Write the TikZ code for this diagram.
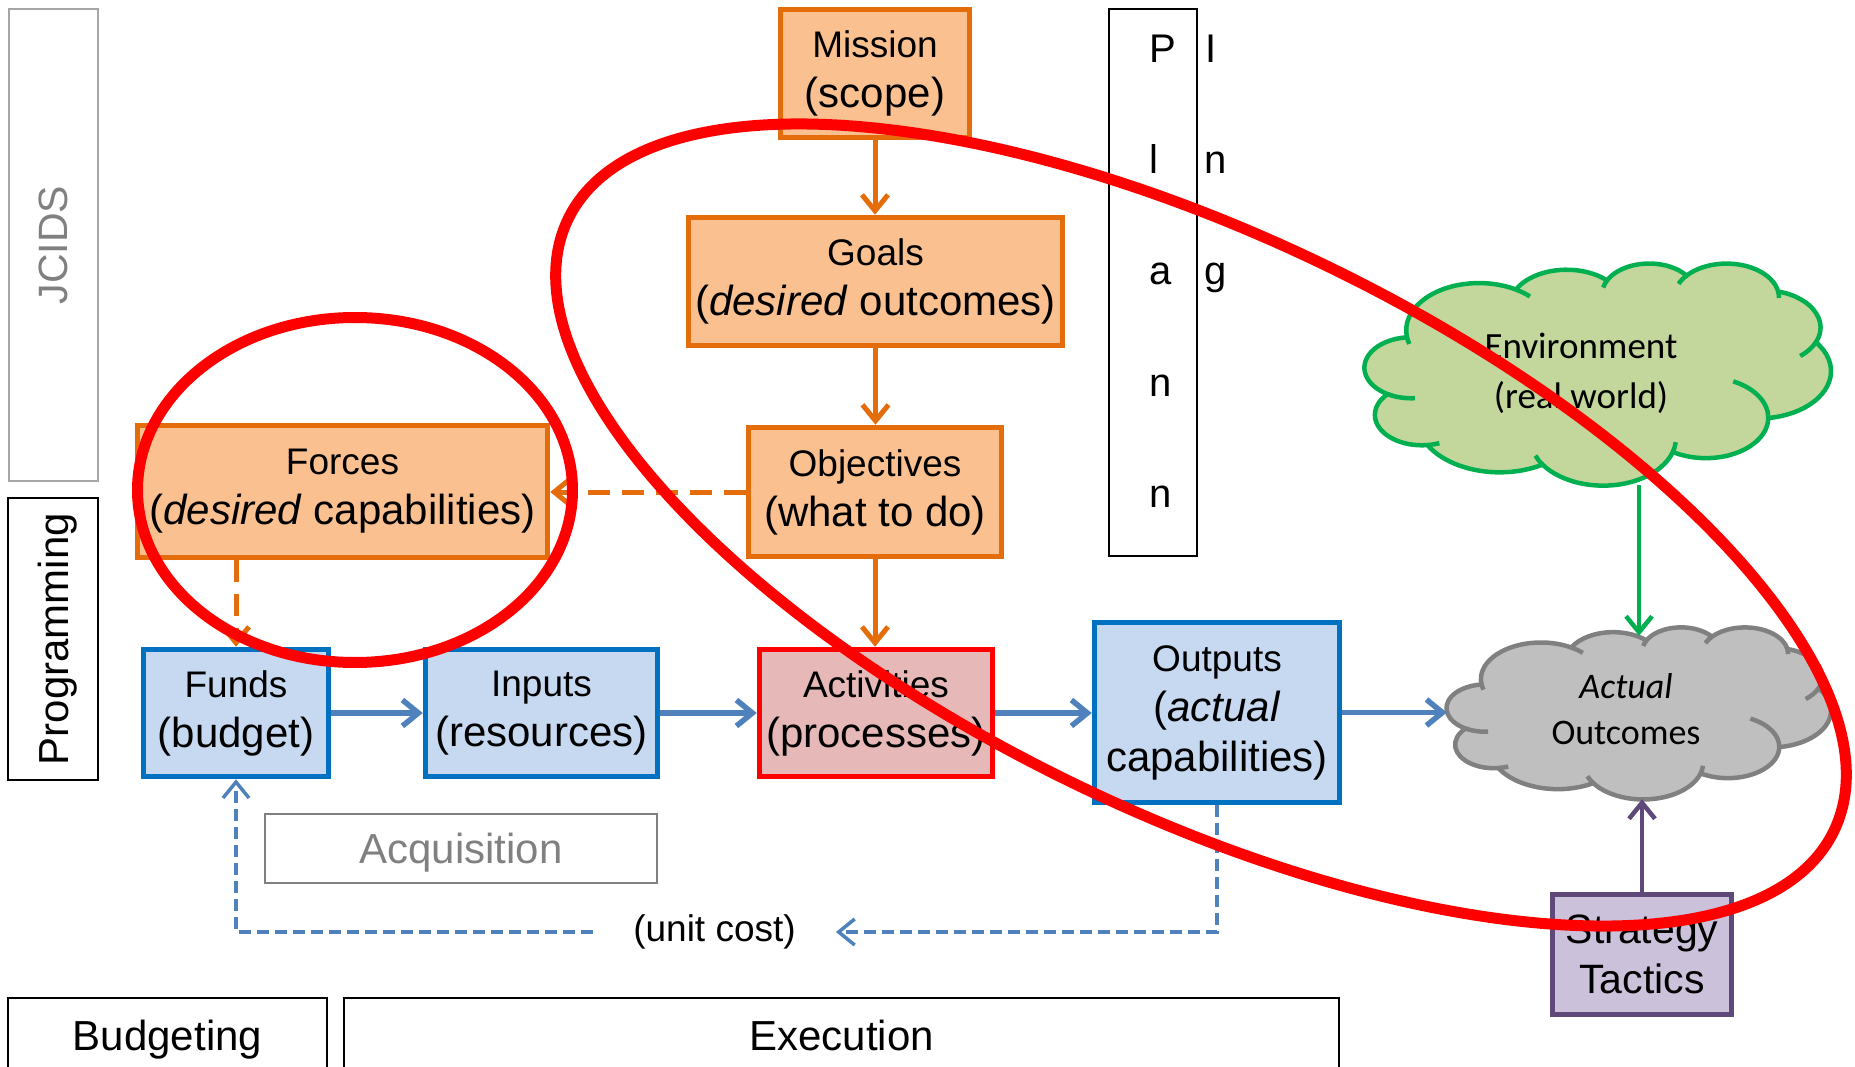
\documentclass[tikz,border=0pt]{standalone}
\usepackage{fontspec}
\setmainfont{Liberation Sans}
\newfontfamily\calib{Carlito}
\usetikzlibrary{arrows.meta}
\definecolor{orB}{HTML}{E46C0A}
\definecolor{orF}{HTML}{FAC090}
\definecolor{blB}{HTML}{0070C0}
\definecolor{blF}{HTML}{C6D9F1}
\definecolor{blA}{HTML}{4F81BD}
\definecolor{acF}{HTML}{E6B9B8}
\definecolor{grB}{HTML}{00B050}
\definecolor{grF}{HTML}{C3D69B}
\definecolor{gcB}{HTML}{808080}
\definecolor{gcF}{HTML}{BFBFBF}
\definecolor{puB}{HTML}{5F497A}
\definecolor{puF}{HTML}{CCC1DA}
\definecolor{lgB}{HTML}{A6A6A6}
\definecolor{lgT}{HTML}{808080}
\newcommand{\lnb}[1]{{\fontsize{42}{50}\selectfont #1}}
% PowerPoint-style cloud in a 100x100 box, placed on the north west corner of node #1
\newcommand{\pcloud}[5]{%
 \begin{scope}[shift={(#1.north west)}, xscale=#2, yscale=-#3, line width=4.5pt]
  \path[draw=#4, fill=#5] (9.028pt,33.264pt)
   arc[start angle=-187.745, end angle=-59.63, x radius=15.632pt, y radius=21.273pt]
   arc[start angle=-152.03, end angle=-45.45, x radius=12.345pt, y radius=16.822pt]
   arc[start angle=-153.48, end angle=-37.32, x radius=10.104pt, y radius=13.762pt]
   arc[start angle=-139.69, end angle=-10.21, x radius=11.243pt, y radius=15.266pt]
   arc[start angle=-74.77, end angle=23.21, x radius=12.345pt, y radius=16.836pt]
   arc[start angle=-37.52, end angle=81.86, x radius=15.683pt, y radius=21.343pt]
   arc[start angle=0.46, end angle=121.98, x radius=13.391pt, y radius=18.211pt]
   arc[start angle=16.84, end angle=146.24, x radius=15.630pt, y radius=21.331pt]
   arc[start angle=58.98, end angle=150.19, x radius=17.870pt, y radius=24.405pt]
   arc[start angle=-276.69, end angle=-136.89, x radius=10.093pt, y radius=13.699pt]
   arc[start angle=-239.64, end angle=-95.89, x radius=10.058pt, y radius=13.762pt]
   -- cycle;
  \path[draw=#4]
   (10.745pt,60.989pt) arc[start angle=85.55, end angle=120.36, x radius=10.058pt, y radius=13.762pt]
   (15.993pt,81.227pt) arc[start angle=68.23, end angle=83.31, x radius=10.093pt, y radius=13.699pt]
   (38.146pt,90.891pt) arc[start angle=146.24, end angle=158.47, x radius=15.630pt, y radius=21.331pt]
   (66.716pt,80.799pt) arc[start angle=4.74, end angle=16.84, x radius=15.630pt, y radius=21.331pt]
   (79.057pt,53.401pt) arc[start angle=-64.02, end angle=0.46, x radius=13.391pt, y radius=18.211pt]
   (96.797pt,35.792pt) arc[start angle=23.21, end angle=49.64, x radius=12.345pt, y radius=16.836pt]
   (88.695pt,12.913pt) arc[start angle=-10.21, end angle=0.82, x radius=11.243pt, y radius=15.266pt]
   (67.336pt,9.479pt) arc[start angle=-156.29, end angle=-139.69, x radius=11.243pt, y radius=15.266pt]
   (51.150pt,11.156pt) arc[start angle=-167.72, end angle=-153.48, x radius=10.104pt, y radius=13.762pt]
   (32.419pt,12.039pt) arc[start angle=-59.63, end angle=-45.75, x radius=15.632pt, y radius=21.273pt]
   (9.554pt,36.548pt) arc[start angle=163.19, end angle=172.255, x radius=15.632pt, y radius=21.273pt];
 \end{scope}}
\tikzset{
  bx/.style={line width=5.5pt, align=center, inner sep=0pt, font=\fontsize{37}{50}\selectfont},
  obox/.style={bx, draw=orB, fill=orF},
  bbox/.style={bx, draw=blB, fill=blF},
  labbox/.style={draw=black, line width=2pt, inner sep=0pt, text depth=0pt, font=\fontsize{42}{50}\selectfont},
  tipv/.style={-{Straight Barb[length=16pt,width=26pt]}},
  oarr/.style={draw=orB, line width=5pt, tipv},
  odash/.style={oarr, dash pattern=on 22pt off 12pt},
  barr/.style={draw=blA, line width=5.5pt, tipv},
  bdash/.style={draw=blA, line width=3.5pt, dash pattern=on 12pt off 6pt, tipv},
  garr/.style={draw=grB, line width=4.5pt, tipv},
  parr/.style={draw=puB, line width=4.5pt, tipv},
  pl/.style={anchor=base west, inner sep=0pt, font=\fontsize{40}{40}\selectfont},
  cloudarea/.style={inner sep=0pt},
  cloudtxt/.style={align=center, inner sep=0pt, font=\calib\fontsize{37}{50}\selectfont},
  redl/.style={draw=red, line width=11pt},
}
\begin{document}
\begin{tikzpicture}[x=1pt,y=-1pt]
\useasboundingbox (0,0) rectangle (1855,1067);
\clip (0,0) rectangle (1855,1067);

% side / bottom labels
\node[labbox, draw=lgB, text=lgT, rotate=90, minimum width=472pt, minimum height=89pt, font=\fontsize{41}{50}\selectfont] (jcids) at (53.5,245) {JCIDS};
\node[labbox, rotate=90, minimum width=282pt, minimum height=90pt] (prog) at (53,639) {Programming};
\node[labbox, minimum width=319pt, minimum height=74pt] (budg) at (167.5,1035) {Budgeting};
\node[labbox, minimum width=995pt, minimum height=74pt] (exec) at (841.5,1035) {Execution};
\node[labbox, draw=gcB, text=lgT, minimum width=392pt, minimum height=69pt] (acq) at (461,848.5) {Acquisition};

% Planning box
\node[draw=black, line width=2pt, inner sep=0pt, minimum width=88pt, minimum height=547pt] (plan) at (1153,282.5) {};
\node[pl] (p1) at (1149,63) {P};
\node[pl] (p2) at (1149,174) {l};
\node[pl] (p3) at (1149,285) {a};
\node[pl] (p4) at (1149,396) {n};
\node[pl] (p5) at (1149,507) {n};
\node[pl] (p6) at (1205,63) {I};
\node[pl] (p7) at (1204,174) {n};
\node[pl] (p8) at (1204,285) {g};

% orange boxes
\node[obox, minimum width=189pt, minimum height=128pt] (mission) at (875,73.5) {Mission\\\lnb{(scope)}};
\node[obox, minimum width=374pt, minimum height=128pt] (goals) at (875.5,281.5) {Goals\\\lnb{(\textit{desired} outcomes)}};
\node[obox, minimum width=253pt, minimum height=129pt] (obj) at (875,492) {Objectives\\\lnb{(what to do)}};
\node[obox, minimum width=410pt, minimum height=132pt] (forces) at (342.5,491.5) {Forces\\\lnb{(\textit{desired} capabilities)}};

% blue row
\node[bbox, minimum width=185pt, minimum height=127pt] (funds) at (236,713) {Funds\\\lnb{(budget)}};
\node[bbox, minimum width=232pt, minimum height=127pt] (inputs) at (541.5,713) {Inputs\\\lnb{(resources)}};
\node[bx, draw=red, fill=acF, minimum width=233pt, minimum height=127pt] (act) at (876,713) {Activities\\\lnb{(processes)}};
\node[bbox, minimum width=245pt, minimum height=180pt] (outputs) at (1217,712.5) {Outputs\\\lnb{(\textit{actual}}\\\lnb{capabilities)}};
\node[bx, draw=puB, fill=puF, minimum width=179pt, minimum height=120pt, font=\fontsize{41}{50}\selectfont] (strat) at (1642,954.5) {Strategy\\Tactics};

% clouds
\node[cloudarea, minimum width=466pt, minimum height=222pt] (env) at (1598,374) {};
\pcloud{env}{4.66}{2.22}{grB}{grF}
\node[cloudtxt] (envt) at (1581,373) {Environment\\(real world)};
\node[cloudarea, minimum width=384pt, minimum height=172pt] (actual) at (1639,713) {};
\pcloud{actual}{3.84}{1.72}{gcB}{gcF}
\node[cloudtxt, font=\calib\fontsize{36}{46}\selectfont] (actt) at (1626,709) {\textit{Actual}\\Outcomes};

% unit cost
\node[inner xsep=40pt, inner ysep=0pt, font=\fontsize{37}{40}\selectfont] (uc) at (714.5,932) {(unit cost)};

% connectors
\draw[oarr] (mission.south) -- (mission.south |- goals.north);
\draw[oarr] (goals.south) -- (goals.south |- obj.north);
\draw[oarr] (obj.south) -- (obj.south |- act.north);
\draw[odash] (obj.west) -- (obj.west -| forces.east);
\draw[odash] (forces.south -| funds.north) -- (funds.north);
\draw[barr] (funds.east) -- (inputs.west);
\draw[barr] (inputs.east) -- (act.west);
\draw[barr] (act.east) -- (act.east -| outputs.west);
\draw[barr] (outputs.east) -- (outputs.east -| actual.west);
\draw[garr, shorten >=-9pt] (actual.north |- env.south) -- (actual.north);
\draw[parr] (strat.north) -- (strat.north |- actual.south);
\draw[bdash] (outputs.south) |- (uc.east);
\draw[bdash] (uc.west) -| (funds.south);

% red ellipses
\draw[redl] (355,490) ellipse [x radius=217.5pt, y radius=172.5pt];
\draw[redl, rotate around={-25.8:(1201,525)}] (1201,525) ellipse [x radius=703pt, y radius=288pt];
\end{tikzpicture}
\end{document}
